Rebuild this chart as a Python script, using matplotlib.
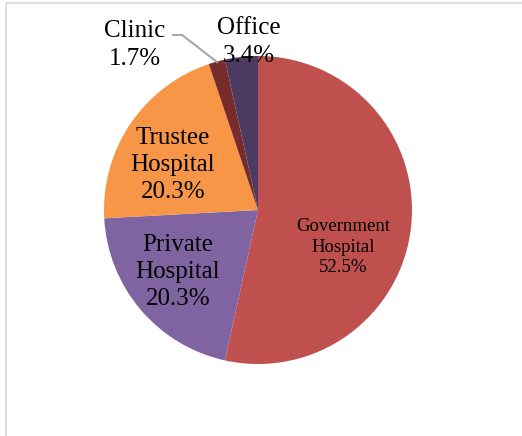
import matplotlib
matplotlib.use("Agg")
import matplotlib.pyplot as plt
from matplotlib.patches import Rectangle

plt.rcParams['font.family'] = ['Liberation Serif', 'DejaVu Serif']

# workplace of respondents (counts out of 59)
categories = ["Government\nHospital", "Private\nHospital", "Trustee\nHospital", "Clinic", "Office"]
counts = [31, 12, 12, 1, 2]
pct_labels = ["52.5%", "20.3%", "20.3%", "1.7%", "3.4%"]
colors = ["#C0504D", "#8064A2", "#F79646", "#772C2A", "#4D3B62"]

W, H = 522, 436
fig = plt.figure(figsize=(W / 100, H / 100), dpi=100)
ax = fig.add_axes([0, 0, 1, 1])

# chart frame (cut off on right and bottom)
ax.add_patch(Rectangle((6, -10), W + 20, H - 3 + 10, fill=False,
                       edgecolor="#D9D9D9", lw=1.2))

cx, cy, r = 258, H - 210, 154
ax.pie(counts, colors=colors, startangle=90, counterclock=False,
       center=(cx, cy), radius=r, frame=True,
       wedgeprops=dict(edgecolor="none"))
ax.set_xlim(0, W)
ax.set_ylim(0, H)
ax.set_aspect("equal")
ax.axis("off")

# data labels
ax.text(343, H - 247, categories[0] + "\n" + pct_labels[0], ha="center", va="center",
        fontsize=13.5, linespacing=1.3)
ax.text(178, H - 272, categories[1] + "\n" + pct_labels[1], ha="center", va="center",
        fontsize=18, linespacing=1.32)
ax.text(173, H - 165, categories[2] + "\n" + pct_labels[2], ha="center", va="center",
        fontsize=18, linespacing=1.32)
ax.text(135, H - 45, categories[3] + "\n" + pct_labels[3], ha="center", va="center",
        fontsize=18, linespacing=1.32)
ax.text(249, H - 42, categories[4] + "\n" + pct_labels[4], ha="center", va="center",
        fontsize=18, linespacing=1.32)

# leader line for Clinic
ax.plot([173, 182, 217], [H - 35, H - 35, H - 62], color="#A6A6A6", lw=1.5)

fig.savefig("out.png", dpi=100)
